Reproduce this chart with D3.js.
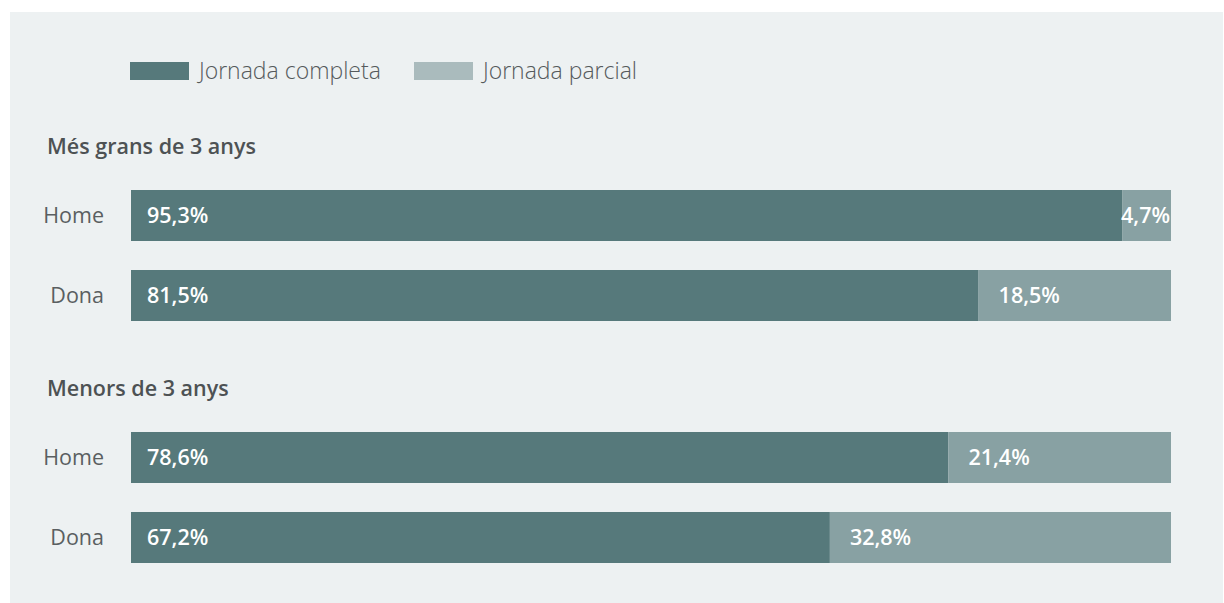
<!DOCTYPE html>
<html>
<head>
<meta charset="utf-8">
<script src="https://cdn.jsdelivr.net/npm/d3@7"></script>
<style>
  html, body { margin: 0; padding: 0; background: #ffffff; }
  svg { display: block; font-family: "Open Sans", Roboto, sans-serif; }
</style>
</head>
<body>
<svg id="chart" width="1224" height="603"></svg>
<script>
// Age groups, people within each group, and the two working-time series (%)
const groups = ["Més grans de 3 anys", "Menors de 3 anys"];
const people = ["Home", "Dona"];
const seriesNames = ["Jornada completa", "Jornada parcial"];
const fullTime = [[95.3, 81.5], [78.6, 67.2]];
const partTime = [[4.7, 18.5], [21.4, 32.8]];

const colors = { full: "#56797b", part: "#88a1a3", partLegend: "#aabbbd" };
const fmt = v => d3.format(".1f")(v).replace(".", ",") + "%";

const svg = d3.select("#chart");
const W = 1224, H = 603;

// Panel background
svg.append("rect").attr("x", 10).attr("y", 12).attr("width", W - 11).attr("height", H - 12)
  .attr("fill", "#edf1f2");

// Horizontal scale: 0–100 % across the bar area
const x = d3.scaleLinear().domain([0, 100]).range([131, 1171]);

// Vertical layout: one band per group, rows inside each
const yGroup = d3.scaleOrdinal().domain(groups).range([190, 432]);
const yRow = d3.scaleBand().domain(people).range([0, 131]).paddingInner(0.3625).paddingOuter(0);

// Legend
const legendItems = [
  { name: seriesNames[0], color: colors.full, x: 130 },
  { name: seriesNames[1], color: colors.partLegend, x: 414 }
];
const lg = svg.append("g");
legendItems.forEach(d => {
  lg.append("rect").attr("x", d.x).attr("y", 62).attr("width", 59).attr("height", 18).attr("fill", d.color);
  lg.append("text").attr("x", d.x + 69).attr("y", 71).attr("dy", "0.35em")
    .attr("font-size", 23).attr("font-weight", 300).attr("fill", "#555a5c").text(d.name);
});

groups.forEach((g, gi) => {
  const gy = yGroup(g);
  // Group title
  svg.append("text").attr("x", 47).attr("y", gy - 36)
    .attr("font-size", 21.5).attr("font-weight", 600).attr("fill", "#4d5254").text(g);

  people.forEach((p, pi) => {
    const y0 = gy + yRow(p);
    const h = yRow.bandwidth();
    const f = fullTime[gi][pi], pt = partTime[gi][pi];

    // Row label
    svg.append("text").attr("x", 104).attr("y", y0 + h / 2).attr("dy", "0.35em")
      .attr("text-anchor", "end").attr("font-size", 21.5).attr("fill", "#5a5f61").text(p);

    // Stacked segments
    svg.append("rect").attr("x", x(0)).attr("y", y0).attr("width", x(f) - x(0)).attr("height", h)
      .attr("fill", colors.full);
    svg.append("rect").attr("x", x(f)).attr("y", y0).attr("width", x(f + pt) - x(f)).attr("height", h)
      .attr("fill", colors.part);

    // Value labels
    svg.append("text").attr("x", x(0) + 16).attr("y", y0 + h / 2).attr("dy", "0.35em")
      .attr("font-size", 21.5).attr("font-weight", 600).attr("fill", "#ffffff").text(fmt(f));
    const segW = x(f + pt) - x(f);
    const tooNarrow = segW < 80;
    svg.append("text")
      .attr("x", tooNarrow ? x(f + pt) - 1 : x(f) + 20)
      .attr("text-anchor", tooNarrow ? "end" : "start")
      .attr("y", y0 + h / 2).attr("dy", "0.35em")
      .attr("font-size", 21.5).attr("font-weight", 600).attr("fill", "#ffffff").text(fmt(pt));
  });
});
</script>
</body>
</html>
